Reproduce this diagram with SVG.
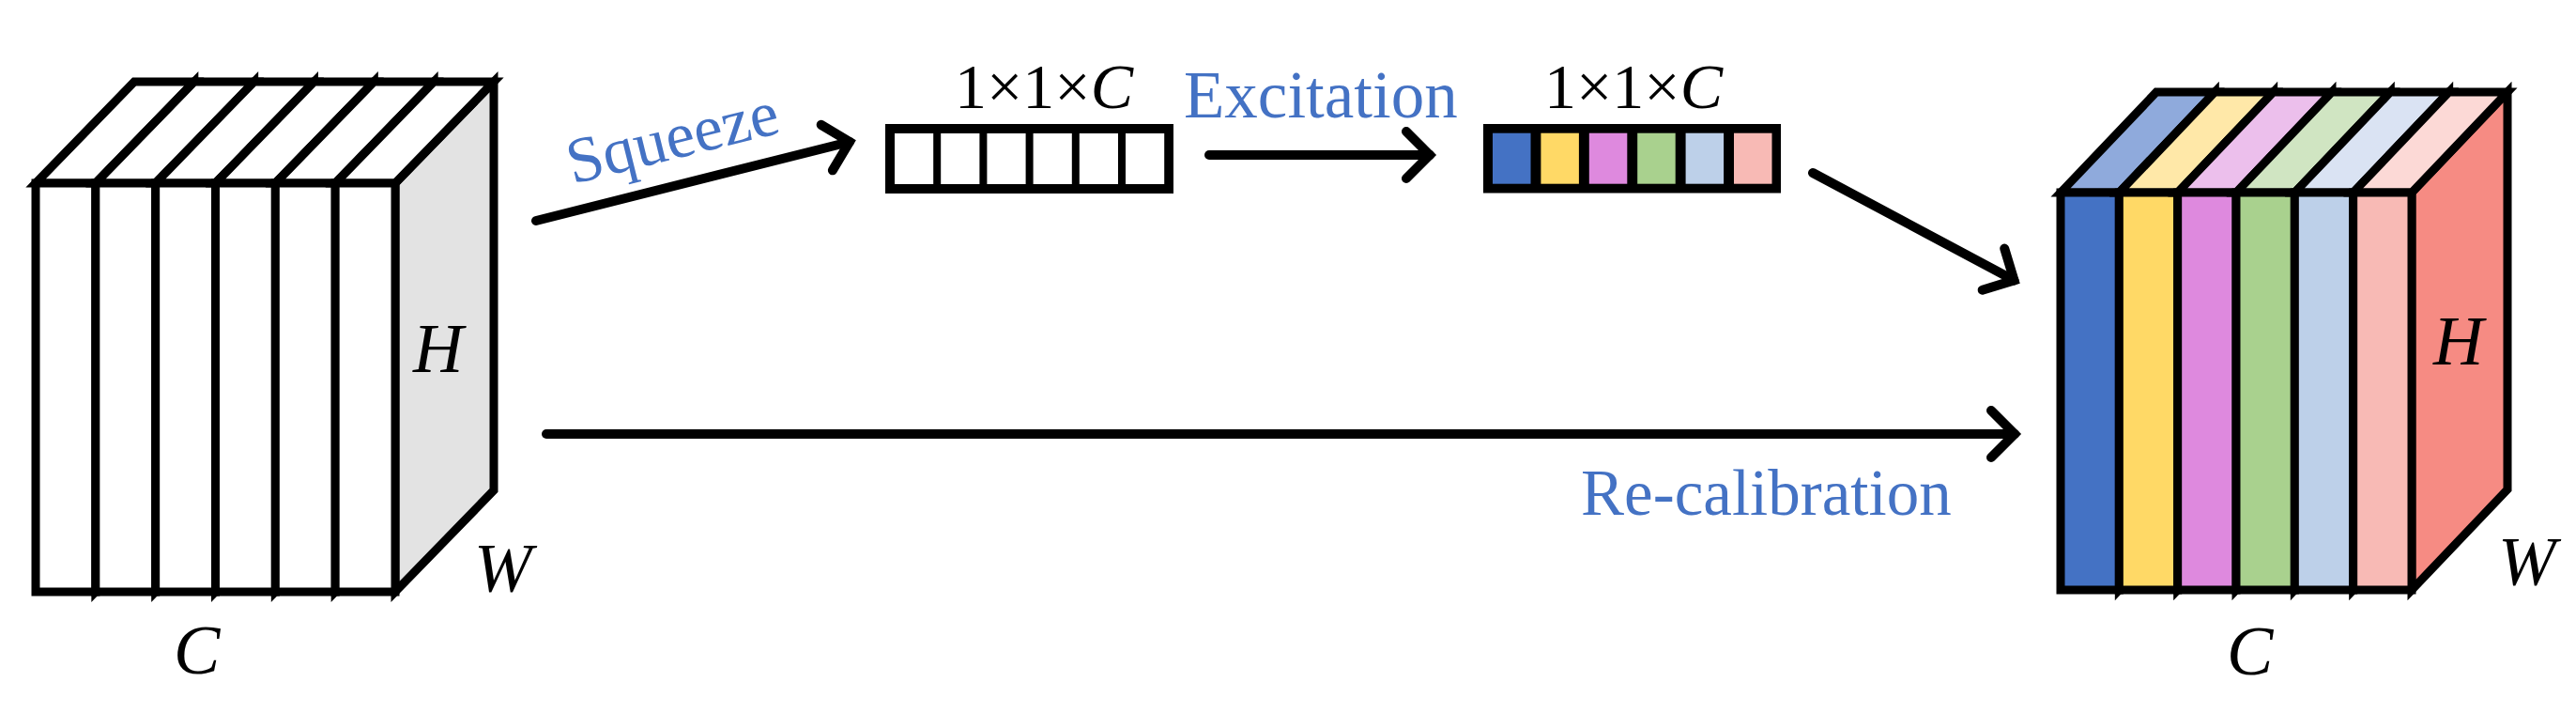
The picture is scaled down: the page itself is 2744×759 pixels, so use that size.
<svg xmlns="http://www.w3.org/2000/svg" width="2744" height="759" viewBox="0 0 2744 759">
<style>
  .edge { stroke: #000; stroke-width: 9; stroke-linejoin: miter; stroke-miterlimit: 10; }
  .wf { fill: #ffffff; }
  .gs { fill: #e3e3e3; }
  .lab { font-family: "Liberation Serif", "Times New Roman", serif; fill: #000; }
  .it { font-style: italic; }
  .blue { font-family: "Liberation Serif", "Times New Roman", serif; fill: #4472C4; }
  .conn { fill: none; stroke: #000; stroke-width: 10; stroke-linecap: round; }
  .c1 { fill: #4472C4; } .c2 { fill: #FFD966; } .c3 { fill: #DE89DE; }
  .c4 { fill: #A9D18E; } .c5 { fill: #BDD0E9; } .c6 { fill: #F8BAB5; }
  .t1 { fill: #8FAADC; } .t2 { fill: #FFE8A8; } .t3 { fill: #ECBFEC; }
  .t4 { fill: #D0E5C2; } .t5 { fill: #DAE3F3; } .t6 { fill: #FCD9D6; }
  .sd { fill: #F68B83; }
</style>
<defs>
  <marker id="chev" markerUnits="userSpaceOnUse" orient="auto" refX="0" refY="0" markerWidth="60" markerHeight="70" viewBox="-40 -35 60 70" overflow="visible">
    <path d="M-25,-25 L0,0 L-25,25" fill="none" stroke="#000" stroke-width="10" stroke-linecap="round" stroke-linejoin="miter" stroke-miterlimit="10"/>
  </marker>
</defs>
<rect x="0" y="0" width="2744" height="759" fill="#ffffff"/>

<g id="input-cube">
  <g class="edge">
    <polygon class="gs" points="101.83,195 206.83,87 206.83,522 101.83,630"/>
    <polygon class="wf" points="38,195 143,87 206.83,87 101.83,195"/>
    <rect class="wf" x="38" y="195" width="63.83" height="435"/>
    <polygon class="gs" points="165.67,195 270.67,87 270.67,522 165.67,630"/>
    <polygon class="wf" points="101.83,195 206.83,87 270.67,87 165.67,195"/>
    <rect class="wf" x="101.83" y="195" width="63.84" height="435"/>
    <polygon class="gs" points="229.5,195 334.5,87 334.5,522 229.5,630"/>
    <polygon class="wf" points="165.67,195 270.67,87 334.5,87 229.5,195"/>
    <rect class="wf" x="165.67" y="195" width="63.83" height="435"/>
    <polygon class="gs" points="293.33,195 398.33,87 398.33,522 293.33,630"/>
    <polygon class="wf" points="229.5,195 334.5,87 398.33,87 293.33,195"/>
    <rect class="wf" x="229.5" y="195" width="63.83" height="435"/>
    <polygon class="gs" points="357.17,195 462.17,87 462.17,522 357.17,630"/>
    <polygon class="wf" points="293.33,195 398.33,87 462.17,87 357.17,195"/>
    <rect class="wf" x="293.33" y="195" width="63.84" height="435"/>
    <polygon class="gs" points="421,195 526,87 526,522 421,630"/>
    <polygon class="wf" points="357.17,195 462.17,87 526,87 421,195"/>
    <rect class="wf" x="357.17" y="195" width="63.83" height="435"/>
  </g>
  <text class="lab it" x="440" y="396" font-size="74">H</text>
  <text class="lab it" x="505" y="630" font-size="74">W</text>
  <text class="lab it" x="185" y="717" font-size="74">C</text>
</g>

<g id="squeeze-vector">
  <rect x="943" y="132" width="307" height="74" fill="#000"/>
  <rect class="wf" x="953" y="142" width="41.2" height="54"/>
  <rect class="wf" x="1002.2" y="142" width="41.2" height="54"/>
  <rect class="wf" x="1051.4" y="142" width="41.2" height="54"/>
  <rect class="wf" x="1100.6" y="142" width="41.2" height="54"/>
  <rect class="wf" x="1149.8" y="142" width="41.2" height="54"/>
  <rect class="wf" x="1199" y="142" width="41.2" height="54"/>
  <text class="lab" x="1017" y="115" font-size="68">1×1×<tspan class="it">C</tspan></text>
</g>

<g id="excitation-vector">
  <rect x="1580" y="132" width="317" height="73.5" fill="#000"/>
  <rect class="c1" x="1590" y="141.7" width="40.5" height="54"/>
  <rect class="c2" x="1641.4" y="141.7" width="40.5" height="54"/>
  <rect class="c3" x="1692.8" y="141.7" width="40.5" height="54"/>
  <rect class="c4" x="1744.2" y="141.7" width="40.5" height="54"/>
  <rect class="c5" x="1795.6" y="141.7" width="40.5" height="54"/>
  <rect class="c6" x="1847" y="141.7" width="40.5" height="54"/>
  <text class="lab" x="1645" y="115" font-size="68">1×1×<tspan class="it">C</tspan></text>
</g>

<g id="output-cube">
  <g class="edge">
    <polygon class="sd" points="2257.33,205 2359.33,98 2359.33,521 2257.33,628"/>
    <polygon class="t1" points="2195,205 2297,98 2359.33,98 2257.33,205"/>
    <rect class="c1" x="2195" y="205" width="62.33" height="423"/>
    <polygon class="sd" points="2319.67,205 2421.67,98 2421.67,521 2319.67,628"/>
    <polygon class="t2" points="2257.33,205 2359.33,98 2421.67,98 2319.67,205"/>
    <rect class="c2" x="2257.33" y="205" width="62.34" height="423"/>
    <polygon class="sd" points="2382,205 2484,98 2484,521 2382,628"/>
    <polygon class="t3" points="2319.67,205 2421.67,98 2484,98 2382,205"/>
    <rect class="c3" x="2319.67" y="205" width="62.33" height="423"/>
    <polygon class="sd" points="2444.33,205 2546.33,98 2546.33,521 2444.33,628"/>
    <polygon class="t4" points="2382,205 2484,98 2546.33,98 2444.33,205"/>
    <rect class="c4" x="2382" y="205" width="62.33" height="423"/>
    <polygon class="sd" points="2506.67,205 2608.67,98 2608.67,521 2506.67,628"/>
    <polygon class="t5" points="2444.33,205 2546.33,98 2608.67,98 2506.67,205"/>
    <rect class="c5" x="2444.33" y="205" width="62.34" height="423"/>
    <polygon class="sd" points="2569,205 2671,98 2671,521 2569,628"/>
    <polygon class="t6" points="2506.67,205 2608.67,98 2671,98 2569,205"/>
    <rect class="c6" x="2506.67" y="205" width="62.33" height="423"/>
  </g>
  <text class="lab it" x="2592" y="388" font-size="74">H</text>
  <text class="lab it" x="2661" y="623" font-size="74">W</text>
  <text class="lab it" x="2372" y="718" font-size="74">C</text>
</g>

<g id="connectors">
  <path class="conn" d="M571,235 L905,151" marker-end="url(#chev)"/>
  <path class="conn" d="M1288,165 L1523,165" marker-end="url(#chev)"/>
  <path class="conn" d="M1931,184 L2145.5,298.4" marker-end="url(#chev)"/>
  <path class="conn" d="M582,462 L2146,462" marker-end="url(#chev)"/>
</g>

<g id="labels">
  <text class="blue" x="610" y="196" font-size="69" transform="rotate(-13.9 610 196)">Squeeze</text>
  <text class="blue" x="1261" y="125" font-size="71">Excitation</text>
  <text class="blue" x="1684" y="548" font-size="69">Re-calibration</text>
</g>
</svg>
